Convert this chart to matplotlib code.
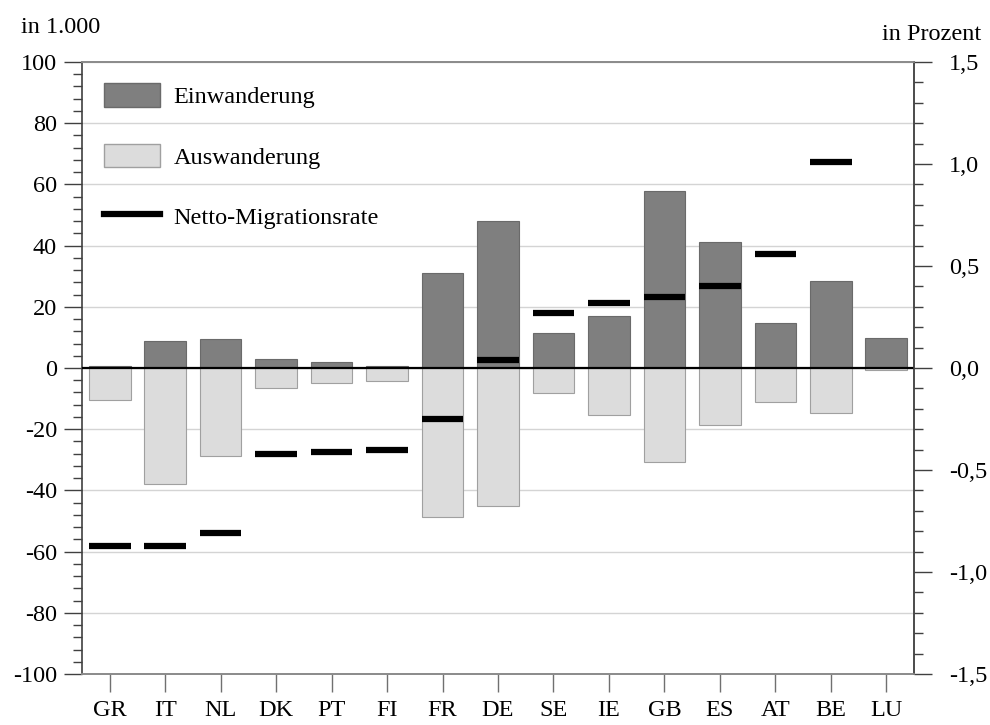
import matplotlib.pyplot as plt
import numpy as np
from matplotlib.patches import Patch
from matplotlib.lines import Line2D
from matplotlib.ticker import MultipleLocator, FuncFormatter

plt.rcParams['font.family'] = ['Liberation Serif', 'DejaVu Serif']
plt.rcParams['axes.unicode_minus'] = False

laender = ['GR', 'IT', 'NL', 'DK', 'PT', 'FI', 'FR', 'DE', 'SE', 'IE', 'GB', 'ES', 'AT', 'BE', 'LU']
# in 1.000
einwanderung = [0.8, 8.7, 9.6, 2.8, 2.1, 0.7, 31.1, 48.0, 11.3, 16.9, 57.9, 41.2, 14.6, 28.5, 9.9]
auswanderung = [-10.3, -37.9, -28.6, -6.5, -5.0, -4.2, -48.7, -45.1, -8.1, -15.5, -30.8, -18.5, -11.2, -14.6, -0.6]
# in Prozent (LU liegt ausserhalb der Skala)
netto_rate = [-0.87, -0.87, -0.81, -0.42, -0.41, -0.40, -0.25, 0.04, 0.27, 0.32, 0.35, 0.40, 0.56, 1.01, np.nan]

dunkel = '#7f7f7f'
hell = '#dcdcdc'
tick_col = '#404040'
fs = 17.5

fig = plt.figure(figsize=(9.9, 7.25), dpi=100)
ax = fig.add_axes([0.0828, 0.0703, 0.8404, 0.8442])
ax2 = ax.twinx()

x = np.arange(len(laender))
w = 0.75
ax.bar(x, einwanderung, w, color=dunkel, edgecolor='#6a6a6a', linewidth=0.8, zorder=2)
ax.bar(x, auswanderung, w, color=hell, edgecolor='#a0a0a0', linewidth=0.8, zorder=2)
ax.axhline(0, color='black', lw=1.6, zorder=3)

ax.set_xlim(-0.5, len(laender) - 0.5)
ax.set_ylim(-100, 100)
ax.yaxis.set_major_locator(MultipleLocator(20))
ax.yaxis.set_minor_locator(MultipleLocator(4))
ax.yaxis.grid(True, which='major', color='#d4d4d4', lw=1.0)
ax.set_axisbelow(True)
ax.set_xticks(x)
ax.set_xticklabels(laender)

ax2.hlines(netto_rate, x - w / 2, x + w / 2, color='black', lw=4.5, zorder=4)
ax2.set_ylim(-1.5, 1.5)
ax2.yaxis.set_major_locator(MultipleLocator(0.5))
ax2.yaxis.set_minor_locator(MultipleLocator(0.1))
ax2.yaxis.set_major_formatter(FuncFormatter(lambda v, p: ('%.1f' % v).replace('.', ',')))

for a in (ax, ax2):
    for s in a.spines.values():
        s.set_color('#8a8a8a')
        s.set_linewidth(1.2)
ax.spines['left'].set_color(tick_col)
ax2.spines['right'].set_color(tick_col)
ax2.spines['left'].set_visible(False)

ax.tick_params(axis='y', which='major', length=13, width=1.0, color=tick_col, labelsize=fs, pad=5)
ax.tick_params(axis='y', which='minor', length=6.5, width=1.0, color=tick_col)
ax.tick_params(axis='x', length=13, width=1.0, color='#707070', labelsize=fs, pad=6)
ax2.tick_params(axis='y', which='major', length=13, width=1.0, color=tick_col, labelsize=fs, pad=12)
ax2.tick_params(axis='y', which='minor', length=6.5, width=1.0, color=tick_col)

fig.text(0.021, 0.962, 'in 1.000', fontsize=fs, va='center', ha='left')
fig.text(0.991, 0.953, 'in Prozent', fontsize=fs, va='center', ha='right')

handles = [Patch(facecolor=dunkel, edgecolor='#6a6a6a'),
           Patch(facecolor=hell, edgecolor='#a0a0a0'),
           Line2D([0], [0], color='black', lw=4.5)]
ax2.legend(handles, ['Einwanderung', 'Auswanderung', 'Netto-Migrationsrate'],
           loc='upper left', bbox_to_anchor=(0.027, 0.965), frameon=False,
           fontsize=fs, handlelength=2.3, handleheight=1.1, handletextpad=0.55,
           labelspacing=1.45, borderpad=0, borderaxespad=0)

fig.savefig('out.png', dpi=100)
